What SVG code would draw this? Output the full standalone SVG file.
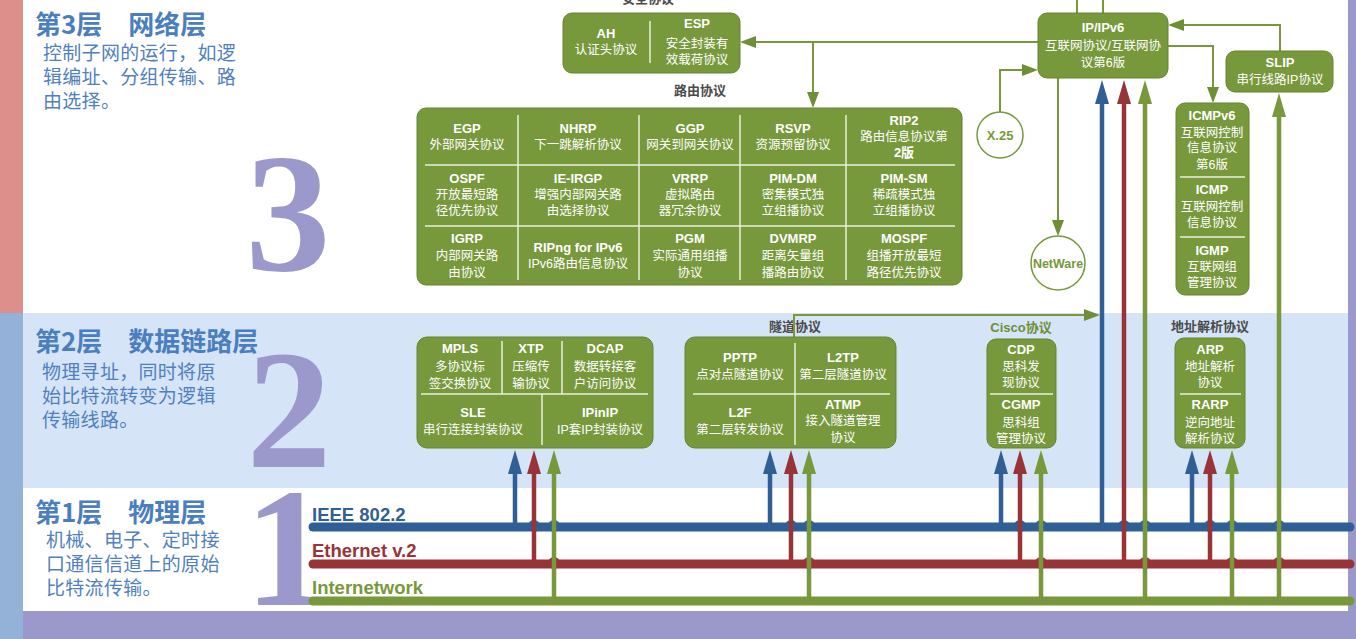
<svg xmlns="http://www.w3.org/2000/svg" width="1356" height="639" viewBox="0 0 1356 639">
<style>
.box{fill:#77983b;stroke:#648530;stroke-width:1}
.dv{stroke:#e9f0dc;stroke-width:1.5;fill:none}
.t{font-family:"Liberation Sans","Noto Sans CJK SC",sans-serif;fill:#fff;text-anchor:middle;font-size:12.5px}
.e{font-weight:bold;font-size:13px}
.lbl{font-family:"Liberation Sans","Noto Sans CJK SC",sans-serif;font-size:13px;font-weight:bold;text-anchor:middle;fill:#4a4a4a}
.ttl{font-family:"Noto Sans CJK SC",sans-serif;font-size:26px;fill:#4a7ebf;font-weight:bold}
.dsc{font-family:"Noto Sans CJK SC",sans-serif;font-size:19px;fill:#5080bd;letter-spacing:0.3px}
.num{font-family:"Liberation Serif",serif;font-weight:bold;font-size:170px;fill:#9b99cb;text-anchor:middle}
.gc{stroke:#77983b;stroke-width:2;fill:none}
.bus{stroke-width:9;stroke-linecap:round;fill:none}
.vb{stroke:#2f5f94;stroke-width:4.5;fill:none}
.vr{stroke:#983438;stroke-width:4.5;fill:none}
.vg{stroke:#77983b;stroke-width:4.5;fill:none}
.busl{font-family:"Liberation Sans",sans-serif;font-size:18.5px;font-weight:bold}
</style>
<defs>
<marker id="aB" markerUnits="userSpaceOnUse" markerWidth="24" markerHeight="14" refX="14" refY="7" orient="auto"><path d="M0,0 L24,7 L0,14 Z" fill="#2f5f94"/></marker>
<marker id="aR" markerUnits="userSpaceOnUse" markerWidth="24" markerHeight="14" refX="14" refY="7" orient="auto"><path d="M0,0 L24,7 L0,14 Z" fill="#983438"/></marker>
<marker id="aG" markerUnits="userSpaceOnUse" markerWidth="24" markerHeight="14" refX="14" refY="7" orient="auto"><path d="M0,0 L24,7 L0,14 Z" fill="#77983b"/></marker>
<marker id="ag" markerUnits="userSpaceOnUse" markerWidth="16" markerHeight="12" refX="13" refY="6" orient="auto"><path d="M0,0 L16,6 L0,12 Z" fill="#6e8f35"/></marker>
</defs>

<!-- background -->
<rect x="0" y="0" width="1356" height="639" fill="#ffffff"/>
<rect x="23" y="313" width="1325" height="175" fill="#d5e4f7"/>
<rect x="23" y="611" width="1333" height="28" fill="#9b99cb"/>
<rect x="0" y="0" width="23" height="313" fill="#dc8f8b"/>
<rect x="0" y="313" width="23" height="326" fill="#94b2d7"/>
<rect x="1348" y="0" width="8" height="611" fill="#9b99cb"/>

<!-- layer descriptions -->
<g id="layer3-label">
<text class="ttl" x="35" y="34">第3层　网络层</text>
<text class="dsc" x="43" y="60">控制子网的运行，如逻</text>
<text class="dsc" x="43" y="84">辑编址、分组传输、路</text>
<text class="dsc" x="43" y="108">由选择。</text>
<text class="num" x="288" y="270">3</text>
</g>
<g id="layer2-label">
<text class="ttl" x="35" y="351">第2层　数据链路层</text>
<text class="dsc" x="42" y="379">物理寻址，同时将原</text>
<text class="dsc" x="42" y="403">始比特流转变为逻辑</text>
<text class="dsc" x="42" y="427">传输线路。</text>
<text class="num" x="289" y="467">2</text>
</g>
<g id="layer1-label">
<text class="ttl" x="35" y="522">第1层　物理层</text>
<text class="dsc" x="46" y="547">机械、电子、定时接</text>
<text class="dsc" x="46" y="571">口通信信道上的原始</text>
<text class="dsc" x="46" y="595">比特流传输。</text>
<text class="num" x="287" y="605">1</text>
</g>

<!-- group labels -->
<text class="lbl" x="648" y="3">安全协议</text>
<text class="lbl" x="700" y="95">路由协议</text>
<text class="lbl" x="795" y="331">隧道协议</text>
<text class="lbl" x="1021" y="332" style="fill:#6e8f35">Cisco协议</text>
<text class="lbl" x="1210" y="331">地址解析协议</text>

<!-- buses -->
<g id="buses">
<path class="bus" d="M313,527 H1350" stroke="#2f5f94"/>
<path class="bus" d="M313,564 H1350" stroke="#983438"/>
<path class="bus" d="M313,601 H1350" stroke="#77983b"/>
<text class="busl" x="312" y="521" fill="#2f5f94">IEEE 802.2</text>
<text class="busl" x="312" y="557" fill="#983438">Ethernet v.2</text>
<text class="busl" x="312" y="594" fill="#77983b">Internetwork</text>
<g fill="#2f5f94">
<circle cx="534" cy="526" r="6"/><circle cx="554" cy="526" r="6"/>
<circle cx="791" cy="526" r="6"/><circle cx="809" cy="526" r="6"/>
<circle cx="1020" cy="526" r="6"/><circle cx="1041" cy="526" r="6"/>
<circle cx="1124" cy="526" r="6"/><circle cx="1145" cy="526" r="6"/>
<circle cx="1210" cy="526" r="6"/><circle cx="1232" cy="526" r="6"/>
<circle cx="1279" cy="526" r="6"/>
</g>
<g fill="#983438">
<circle cx="554" cy="563" r="6"/><circle cx="809" cy="563" r="6"/>
<circle cx="1041" cy="563" r="6"/><circle cx="1145" cy="563" r="6"/>
<circle cx="1232" cy="563" r="6"/><circle cx="1279" cy="563" r="6"/>
</g>
</g>

<!-- connectors -->
<g id="connectors">
<path class="vb" d="M515,527 V460" marker-end="url(#aB)"/>
<path class="vr" d="M534,564 V460" marker-end="url(#aR)"/>
<path class="vg" d="M554,601 V460" marker-end="url(#aG)"/>
<path class="vb" d="M770,527 V460" marker-end="url(#aB)"/>
<path class="vr" d="M791,564 V460" marker-end="url(#aR)"/>
<path class="vg" d="M809,601 V460" marker-end="url(#aG)"/>
<path class="vb" d="M1001,527 V460" marker-end="url(#aB)"/>
<path class="vr" d="M1020,564 V460" marker-end="url(#aR)"/>
<path class="vg" d="M1041,601 V460" marker-end="url(#aG)"/>
<path class="vb" d="M1102,527 V90" marker-end="url(#aB)"/>
<path class="vr" d="M1124,564 V90" marker-end="url(#aR)"/>
<path class="vg" d="M1145,601 V90" marker-end="url(#aG)"/>
<path class="vb" d="M1192,527 V460" marker-end="url(#aB)"/>
<path class="vr" d="M1210,564 V460" marker-end="url(#aR)"/>
<path class="vg" d="M1232,601 V460" marker-end="url(#aG)"/>
<path class="vg" d="M1279,601 V103" marker-end="url(#aG)"/>

<path class="gc" d="M1038,42 H743" marker-end="url(#ag)"/>
<path class="gc" d="M813,42 V105" marker-end="url(#ag)"/>
<path class="gc" d="M1000,112 V70 H1035" marker-end="url(#ag)"/>
<path class="gc" d="M1058,78 V233" marker-end="url(#ag)"/>
<path class="gc" d="M1168,46 H1213 V100" marker-end="url(#ag)"/>
<path class="gc" d="M1280,51 V25 H1171" marker-end="url(#ag)"/>
<path class="gc" d="M1077,0 V13 M1103,0 V13"/>
<path class="gc" d="M794,337 V315 H1097" marker-end="url(#ag)"/>
</g>

<!-- security -->
<g id="ah-esp">
<rect class="box" x="563" y="13" width="177" height="60" rx="9"/>
<path class="dv" d="M650,21 V63"/>
<text class="t e" x="606" y="38">AH</text>
<text class="t" x="606" y="54">认证头协议</text>
<text class="t e" x="697" y="28">ESP</text>
<text class="t" x="697" y="48">安全封装有</text>
<text class="t" x="697" y="64">效载荷协议</text>
</g>

<!-- routing grid -->
<g id="routing">
<rect class="box" x="417" y="108" width="545" height="177" rx="9"/>
<path class="dv" d="M518,115 V280 M639,115 V280 M740,115 V280 M846,115 V280 M425,165 H955 M425,226 H955"/>
<text class="t e" x="467" y="133">EGP</text>
<text class="t" x="467" y="149">外部网关协议</text>
<text class="t e" x="578" y="133">NHRP</text>
<text class="t" x="578" y="149">下一跳解析协议</text>
<text class="t e" x="690" y="133">GGP</text>
<text class="t" x="690" y="149">网关到网关协议</text>
<text class="t e" x="793" y="133">RSVP</text>
<text class="t" x="793" y="149">资源预留协议</text>
<text class="t e" x="904" y="125">RIP2</text>
<text class="t" x="904" y="141">路由信息协议第</text>
<text class="t e" x="904" y="157">2版</text>

<text class="t e" x="467" y="183">OSPF</text>
<text class="t" x="467" y="199">开放最短路</text>
<text class="t" x="467" y="215">径优先协议</text>
<text class="t e" x="578" y="183">IE-IRGP</text>
<text class="t" x="578" y="199">增强内部网关路</text>
<text class="t" x="578" y="215">由选择协议</text>
<text class="t e" x="690" y="183">VRRP</text>
<text class="t" x="690" y="199">虚拟路由</text>
<text class="t" x="690" y="215">器冗余协议</text>
<text class="t e" x="793" y="183">PIM-DM</text>
<text class="t" x="793" y="199">密集模式独</text>
<text class="t" x="793" y="215">立组播协议</text>
<text class="t e" x="904" y="183">PIM-SM</text>
<text class="t" x="904" y="199">稀疏模式独</text>
<text class="t" x="904" y="215">立组播协议</text>

<text class="t e" x="467" y="243">IGRP</text>
<text class="t" x="467" y="260">内部网关路</text>
<text class="t" x="467" y="277">由协议</text>
<text class="t e" x="578" y="252">RIPng for IPv6</text>
<text class="t" x="578" y="268">IPv6路由信息协议</text>
<text class="t e" x="690" y="243">PGM</text>
<text class="t" x="690" y="260">实际通用组播</text>
<text class="t" x="690" y="277">协议</text>
<text class="t e" x="793" y="243">DVMRP</text>
<text class="t" x="793" y="260">距离矢量组</text>
<text class="t" x="793" y="277">播路由协议</text>
<text class="t e" x="904" y="243">MOSPF</text>
<text class="t" x="904" y="260">组播开放最短</text>
<text class="t" x="904" y="277">路径优先协议</text>
</g>

<!-- IP -->
<g id="ip">
<rect class="box" x="1038" y="13" width="130" height="65" rx="9"/>
<text class="t e" x="1103" y="32">IP/IPv6</text>
<text class="t" x="1103" y="50">互联网协议/互联网协</text>
<text class="t" x="1103" y="67">议第6版</text>
</g>
<g id="slip">
<rect class="box" x="1226" y="51" width="107" height="41" rx="9"/>
<text class="t e" x="1280" y="67">SLIP</text>
<text class="t" x="1280" y="84">串行线路IP协议</text>
</g>
<g id="x25">
<circle cx="1000" cy="135" r="23" fill="#fff" stroke="#77983b" stroke-width="1.5"/>
<text class="t e" x="1000" y="140" style="fill:#77983b">X.25</text>
</g>
<g id="netware">
<circle cx="1058" cy="263" r="27" fill="#fff" stroke="#77983b" stroke-width="1.5"/>
<text class="t e" x="1058" y="268" style="fill:#77983b;font-size:12.5px">NetWare</text>
</g>
<g id="icmp">
<rect class="box" x="1176" y="103" width="73" height="192" rx="9"/>
<path class="dv" d="M1180,177 H1245 M1180,237 H1245"/>
<text class="t e" x="1212" y="120">ICMPv6</text>
<text class="t" x="1212" y="137">互联网控制</text>
<text class="t" x="1212" y="152">信息协议</text>
<text class="t" x="1212" y="169">第6版</text>
<text class="t e" x="1212" y="194">ICMP</text>
<text class="t" x="1212" y="211">互联网控制</text>
<text class="t" x="1212" y="227">信息协议</text>
<text class="t e" x="1212" y="255">IGMP</text>
<text class="t" x="1212" y="271">互联网组</text>
<text class="t" x="1212" y="287">管理协议</text>
</g>

<!-- layer 2 -->
<g id="mpls-box">
<rect class="box" x="417" y="337" width="236" height="111" rx="10"/>
<path class="dv" d="M502,341 V394 M562,341 V394 M421,394 H648 M542,394 V445"/>
<text class="t e" x="460" y="353">MPLS</text>
<text class="t" x="460" y="371">多协议标</text>
<text class="t" x="460" y="388">签交换协议</text>
<text class="t e" x="531" y="353">XTP</text>
<text class="t" x="531" y="371">压缩传</text>
<text class="t" x="531" y="388">输协议</text>
<text class="t e" x="605" y="353">DCAP</text>
<text class="t" x="605" y="371">数据转接客</text>
<text class="t" x="605" y="388">户访问协议</text>
<text class="t e" x="473" y="417">SLE</text>
<text class="t" x="473" y="434">串行连接封装协议</text>
<text class="t e" x="600" y="417">IPinIP</text>
<text class="t" x="600" y="434">IP套IP封装协议</text>
</g>
<g id="tunnel-box">
<rect class="box" x="685" y="337" width="211" height="111" rx="10"/>
<path class="dv" d="M795,343 V445 M693,394 H890"/>
<text class="t e" x="740" y="362">PPTP</text>
<text class="t" x="740" y="379">点对点隧道协议</text>
<text class="t e" x="843" y="362">L2TP</text>
<text class="t" x="843" y="379">第二层隧道协议</text>
<text class="t e" x="740" y="417">L2F</text>
<text class="t" x="740" y="434">第二层转发协议</text>
<text class="t e" x="843" y="409">ATMP</text>
<text class="t" x="843" y="425">接入隧道管理</text>
<text class="t" x="843" y="442">协议</text>
</g>
<g id="cisco-box">
<rect class="box" x="987" y="339" width="69" height="109" rx="9"/>
<path class="dv" d="M990,394 H1053"/>
<text class="t e" x="1021" y="354">CDP</text>
<text class="t" x="1021" y="371">思科发</text>
<text class="t" x="1021" y="387">现协议</text>
<text class="t e" x="1021" y="409">CGMP</text>
<text class="t" x="1021" y="427">思科组</text>
<text class="t" x="1021" y="443">管理协议</text>
</g>
<g id="arp-box">
<rect class="box" x="1175" y="338" width="70" height="110" rx="9"/>
<path class="dv" d="M1180,394 H1241"/>
<text class="t e" x="1210" y="354">ARP</text>
<text class="t" x="1210" y="371">地址解析</text>
<text class="t" x="1210" y="387">协议</text>
<text class="t e" x="1210" y="409">RARP</text>
<text class="t" x="1210" y="427">逆向地址</text>
<text class="t" x="1210" y="443">解析协议</text>
</g>
</svg>
